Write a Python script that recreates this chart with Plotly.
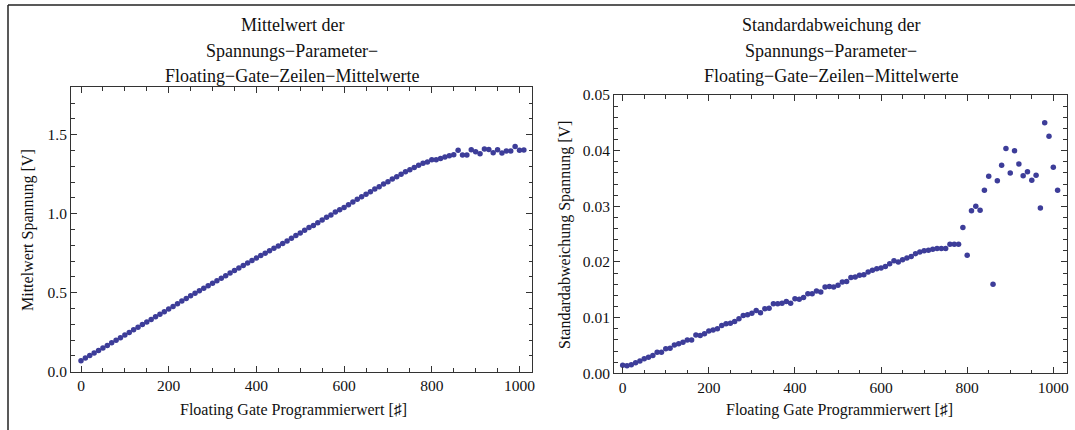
import plotly.graph_objects as go

# ---- data ----
prog_values = [i * 10 for i in range(102)]  # 0 .. 1010

mean_voltage = [
    0.070, 0.086, 0.102, 0.118, 0.134, 0.150, 0.166, 0.183, 0.199, 0.215,
    0.232, 0.248, 0.265, 0.281, 0.298, 0.314, 0.331, 0.347, 0.364, 0.380,
    0.397, 0.413, 0.430, 0.447, 0.464, 0.480, 0.496, 0.512, 0.528, 0.544,
    0.560, 0.576, 0.592, 0.608, 0.624, 0.640, 0.656, 0.672, 0.688, 0.704,
    0.719, 0.735, 0.750, 0.766, 0.781, 0.796, 0.811, 0.828, 0.845, 0.862,
    0.878, 0.895, 0.912, 0.926, 0.943, 0.960, 0.977, 0.992, 1.011, 1.025,
    1.040, 1.057, 1.074, 1.091, 1.108, 1.123, 1.139, 1.156, 1.171, 1.188,
    1.203, 1.220, 1.234, 1.249, 1.266, 1.278, 1.293, 1.306, 1.319, 1.327,
    1.342, 1.342, 1.350, 1.359, 1.367, 1.373, 1.401, 1.371, 1.371, 1.405,
    1.392, 1.380, 1.410, 1.407, 1.386, 1.405, 1.384, 1.397, 1.397, 1.426,
    1.401, 1.403,
]

std_voltage = [
    0.00145, 0.00135, 0.00155, 0.0019, 0.0022, 0.0026, 0.0029, 0.0032, 0.0038, 0.0038,
    0.0044, 0.0045, 0.0051, 0.0053, 0.0056, 0.0060, 0.0060, 0.0069, 0.0068, 0.0071,
    0.0076, 0.0078, 0.0080, 0.0086, 0.0089, 0.0090, 0.0093, 0.0098, 0.0104, 0.0105,
    0.0108, 0.0113, 0.0109, 0.0116, 0.0117, 0.0125, 0.0125, 0.0126, 0.0129, 0.0126,
    0.0134, 0.0133, 0.0136, 0.0143, 0.0143, 0.0148, 0.0146, 0.0155, 0.0156, 0.0155,
    0.0158, 0.0164, 0.0165, 0.0172, 0.0173, 0.0176, 0.0177, 0.0182, 0.0185, 0.0188,
    0.0189, 0.0192, 0.0197, 0.0202, 0.0200, 0.0204, 0.0207, 0.0210, 0.0215, 0.0218,
    0.0220, 0.0221, 0.0223, 0.0224, 0.0224, 0.0224, 0.0232, 0.0232, 0.0232, 0.0262,
    0.0212, 0.0292, 0.0300, 0.0293, 0.0329, 0.0354, 0.0160, 0.0346, 0.0374, 0.0404,
    0.0360, 0.0400, 0.0376, 0.0355, 0.0362, 0.0347, 0.0356, 0.0297, 0.0450, 0.0426,
    0.0370, 0.0329,
]

title_left = ["Mittelwert der", "Spannungs\u2212Parameter\u2212",
              "Floating\u2212Gate\u2212Zeilen\u2212Mittelwerte"]
title_right = ["Standardabweichung der", "Spannungs\u2212Parameter\u2212",
               "Floating\u2212Gate\u2212Zeilen\u2212Mittelwerte"]
xlabel = "Floating Gate Programmierwert [\u266f]"
ylabel_left = "Mittelwert Spannung [V]"
ylabel_right = "Standardabweichung Spannung [V]"

# ---- figure ----
W, H = 1075, 430
FONT = "Liberation Serif, Times New Roman, serif"
DOT = "#3d3d99"
FRAME = "#333333"

def px(x):
    return x / W

def py(y):
    return 1 - y / H

fig = go.Figure()
fig.add_trace(go.Scatter(x=prog_values, y=mean_voltage, mode="markers",
                         marker=dict(color=DOT, size=5.5, line=dict(width=0)),
                         xaxis="x", yaxis="y", showlegend=False))
fig.add_trace(go.Scatter(x=prog_values, y=std_voltage, mode="markers",
                         marker=dict(color=DOT, size=5.5, line=dict(width=0)),
                         xaxis="x2", yaxis="y2", showlegend=False))

TICKFONT = dict(family=FONT, size=15.5, color="#111")

def xaxis_cfg(domain, rng, anchor):
    return dict(domain=domain, range=rng, anchor=anchor,
                tickmode="array", tickvals=[0, 200, 400, 600, 800, 1000],
                ticks="inside", ticklen=6, tickwidth=1, tickcolor=FRAME,
                minor=dict(dtick=50, tick0=0, ticks="inside", ticklen=3.5,
                           tickwidth=1, tickcolor=FRAME, showgrid=False),
                showline=True, linecolor=FRAME, linewidth=1, mirror="ticks",
                showgrid=False, zeroline=False, tickfont=TICKFONT,
                automargin=False)

def yaxis_cfg(domain, rng, anchor, dtick, minor, fmt):
    return dict(domain=domain, range=rng, anchor=anchor,
                tick0=0, dtick=dtick, tickformat=fmt,
                ticks="inside", ticklen=6, tickwidth=1, tickcolor=FRAME,
                minor=dict(dtick=minor, tick0=0, ticks="inside", ticklen=3.5,
                           tickwidth=1, tickcolor=FRAME, showgrid=False),
                showline=True, linecolor=FRAME, linewidth=1, mirror="ticks",
                showgrid=False, zeroline=False, tickfont=TICKFONT,
                automargin=False)

L_x0, L_x1, L_y0, L_y1 = 71, 532.3, 87.3, 371.7
R_x0, R_x1, R_y0, R_y1 = 614, 1066.7, 95, 373.3

fig.update_layout(
    width=W, height=H, autosize=False,
    margin=dict(l=0, r=0, t=0, b=0, pad=0, autoexpand=False),
    paper_bgcolor="white", plot_bgcolor="white",
    xaxis=xaxis_cfg([px(L_x0), px(L_x1)], [-22.8, 1029.2], "y"),
    yaxis=yaxis_cfg([py(L_y1), py(L_y0)], [0, 1.8], "x", 0.5, 0.1, ".1f"),
    xaxis2=xaxis_cfg([px(R_x0), px(R_x1)], [-20.2, 1031.1], "y2"),
    yaxis2=yaxis_cfg([py(R_y1), py(R_y0)], [0, 0.05], "x2", 0.01, 0.002, ".2f"),
)

ann = []
tfont = dict(family=FONT, size=18, color="#111")
for i, (tl, tr) in enumerate(zip(title_left, title_right)):
    yy = 25 + i * 25.5
    ann.append(dict(text=tl, x=px(292), y=py(yy), xref="paper", yref="paper",
                    showarrow=False, xanchor="center", yanchor="middle", font=tfont))
    ann.append(dict(text=tr, x=px(831), y=py(yy), xref="paper", yref="paper",
                    showarrow=False, xanchor="center", yanchor="middle", font=tfont))

lfont = dict(family=FONT, size=16, color="#111")
ann.append(dict(text=xlabel, x=px(293), y=py(410), xref="paper", yref="paper",
                showarrow=False, xanchor="center", yanchor="middle", font=lfont))
ann.append(dict(text=xlabel, x=px(839), y=py(410), xref="paper", yref="paper",
                showarrow=False, xanchor="center", yanchor="middle", font=lfont))
ann.append(dict(text=ylabel_left, x=px(28), y=py(230), xref="paper", yref="paper",
                showarrow=False, xanchor="center", yanchor="middle", textangle=-90,
                font=lfont))
ann.append(dict(text=ylabel_right, x=px(565), y=py(235), xref="paper", yref="paper",
                showarrow=False, xanchor="center", yanchor="middle", textangle=-90,
                font=lfont))
fig.update_layout(annotations=ann)

# outer window frame (top and left edges visible)
fig.add_shape(type="line", xref="paper", yref="paper",
              x0=px(8), x1=1.0, y0=py(5), y1=py(5),
              line=dict(color="#222", width=1.5))
fig.add_shape(type="line", xref="paper", yref="paper",
              x0=px(8), x1=px(8), y0=py(5), y1=0.0,
              line=dict(color="#222", width=1.5))

fig.write_html("out.html",
               config={"displayModeBar": False, "responsive": False},
               post_script="document.body.style.margin='0';document.body.style.overflow='hidden';")
